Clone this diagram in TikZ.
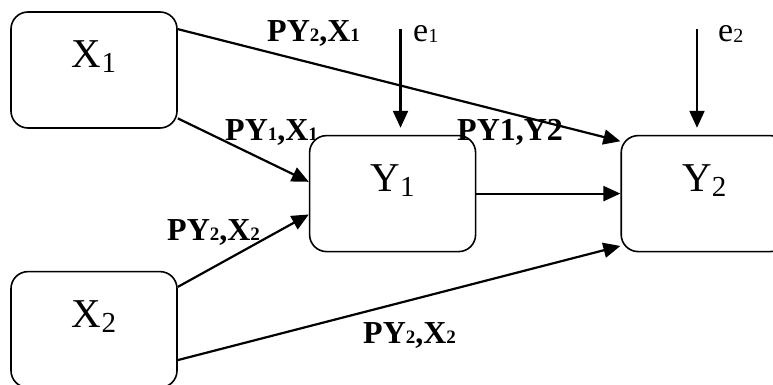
\documentclass[tikz,border=0pt]{standalone}
\usepackage{fontspec}
\setmainfont{Liberation Serif}
\usepackage{tikz}
\usetikzlibrary{positioning, arrows.meta, calc}
\newcommand{\boxsub}[1]{\raisebox{-5pt}{\fontsize{29}{29}\selectfont #1}}
\newcommand{\coefsub}[1]{{\fontsize{19}{19}\selectfont #1}}
\newcommand{\errsub}[1]{\raisebox{-1pt}{\fontsize{20}{20}\selectfont #1}}

\begin{document}
\begin{tikzpicture}[
    x=1pt, y=1pt,
    var/.style={draw=black, rounded corners=17pt, line width=1.6pt,
                minimum width=166pt, text height=56pt, text depth=60pt,
                inner xsep=0pt, inner ysep=0pt,
                font=\fontsize{41}{44}\selectfont},
    coef/.style={font=\fontsize{32}{36}\selectfont\bfseries,
                 inner sep=0pt, anchor=base west},
    err/.style={font=\fontsize{34}{38}\selectfont,
                inner sep=0pt, anchor=base west},
    arr/.style={-{Triangle[length=17pt, width=15pt]}, line width=2.2pt},
]
\useasboundingbox (0,0) rectangle (773,-385);

% Exogenous variables
\node[var] (x1) at (94,-70) {X\boxsub{1}};
\node[var, below=142pt of x1] (x2) {X\boxsub{2}};

% Endogenous variables
\node[var, below right=6pt and 131pt of x1] (y1) {Y\boxsub{1}};
\node[var, right=144pt of y1] (y2) {Y\boxsub{2}};

% Paths
\foreach \a/\b in {x1.26/y2.148, x1.-30/y1.172, x2.27/y1.194, x2.-20/y2.212} {
    \draw[arr] (\a) -- (\b);
}
\draw[arr] (y1.east) -- (y2.west);

% Error terms
\coordinate (e1top) at (400.5,-29);
\coordinate (e2top) at (697,-29);
\node[err] (e1) at (413,-42) {e\errsub{1}};
\node[err] (e2) at (718,-42) {e\errsub{2}};
\draw[arr, shorten >=7pt] (e1top) -- (e1top |- y1.north);
\draw[arr, shorten >=7pt] (e2top) -- (e2top |- y2.north);

% Path coefficients
\node[coef] (py2x1) at (267,-42) {PY\coefsub{2},X\coefsub{1}};
\node[coef] (py1x1) at (225,-140) {PY\coefsub{1},X\coefsub{1}};
\node[coef] (py1y2) at (457,-140) {PY1,Y2};
\node[coef] (py2x2) at (167,-240) {PY\coefsub{2},X\coefsub{2}};
\node[coef] (py2x2b) at (363,-343) {PY\coefsub{2},X\coefsub{2}};

\end{tikzpicture}
\end{document}
